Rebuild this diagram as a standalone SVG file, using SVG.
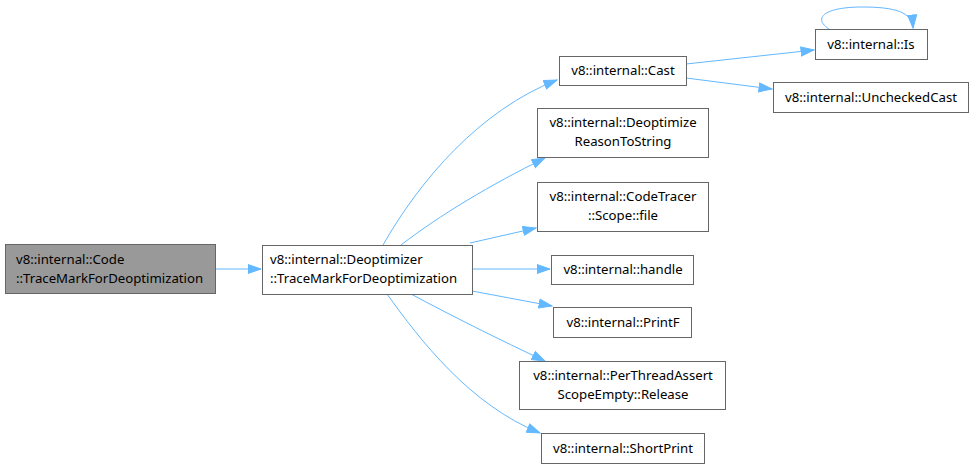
<svg xmlns="http://www.w3.org/2000/svg" width="974" height="468" viewBox="0 0 974 468">
<style>
.box{fill:#ffffff;stroke:#666666;stroke-width:1}
.cur{fill:#999999;stroke:#666666;stroke-width:1}
text{font-family:"Noto Sans","Open Sans","DejaVu Sans",sans-serif;font-size:13.2px;fill:#000000}
.c{text-anchor:middle}
.e{fill:none;stroke:#63b8ff;stroke-width:1}
.ah{fill:#63b8ff;stroke:#63b8ff}
</style>
<defs>
<marker id="arr" markerWidth="15" markerHeight="11" refX="13.5" refY="5.5" orient="auto" markerUnits="userSpaceOnUse">
<path d="M0.5,1 L13.5,5.5 L0.5,10 Z" class="ah"/>
</marker>
</defs>
<rect width="974" height="468" fill="#ffffff"/>
<g id="edges">
<path class="e" marker-end="url(#arr)" d="M215,269 L261,269"/>
<path class="e" marker-end="url(#arr)" d="M383,245 C420,180 480,110 557,80"/>
<path class="e" marker-end="url(#arr)" d="M401,245 C440,215 490,185 545,158"/>
<path class="e" marker-end="url(#arr)" d="M470,243 L536,228"/>
<path class="e" marker-end="url(#arr)" d="M472,269 L550,269"/>
<path class="e" marker-end="url(#arr)" d="M472,291 L552,306"/>
<path class="e" marker-end="url(#arr)" d="M411,294 C450,315 500,340 545,361"/>
<path class="e" marker-end="url(#arr)" d="M387,294 C420,340 470,405 540,433"/>
<path class="e" marker-end="url(#arr)" d="M686,64 L814,50"/>
<path class="e" marker-end="url(#arr)" d="M686,78 L772,89"/>
<path class="e" marker-end="url(#arr)" d="M829,29 C812,18 825,7 862,7 C895,7 912,12 913,28"/>
</g>
<g id="n_code">
<rect class="cur" x="5.5" y="244.5" width="210" height="49"/>
<text x="16" y="264">v8::internal::Code</text>
<text x="16" y="283">::TraceMarkForDeoptimization</text>
</g>
<g id="n_deopt">
<rect class="box" x="262.5" y="245.5" width="210" height="49"/>
<text x="270" y="264">v8::internal::Deoptimizer</text>
<text x="270" y="283">::TraceMarkForDeoptimization</text>
</g>
<g id="n_cast">
<rect class="box" x="559.5" y="56.5" width="127" height="29"/>
<text class="c" x="623" y="75">v8::internal::Cast</text>
</g>
<g id="n_is">
<rect class="box" x="815.5" y="29.5" width="112" height="30"/>
<text class="c" x="871" y="49">v8::internal::Is</text>
</g>
<g id="n_unchecked">
<rect class="box" x="773.5" y="82.5" width="195" height="30"/>
<text class="c" x="871" y="102">v8::internal::UncheckedCast</text>
</g>
<g id="n_reason">
<rect class="box" x="537.5" y="108.5" width="171" height="49"/>
<text class="c" x="623" y="127">v8::internal::Deoptimize</text>
<text class="c" x="623" y="146">ReasonToString</text>
</g>
<g id="n_tracer">
<rect class="box" x="537.5" y="182.5" width="171" height="49"/>
<text class="c" x="623" y="201">v8::internal::CodeTracer</text>
<text class="c" x="623" y="220">::Scope::file</text>
</g>
<g id="n_handle">
<rect class="box" x="551.5" y="255.5" width="142" height="29"/>
<text class="c" x="623" y="274">v8::internal::handle</text>
</g>
<g id="n_printf">
<rect class="box" x="553.5" y="307.5" width="138" height="30"/>
<text class="c" x="623" y="327">v8::internal::PrintF</text>
</g>
<g id="n_release">
<rect class="box" x="519.5" y="361.5" width="206" height="48"/>
<text class="c" x="623" y="380">v8::internal::PerThreadAssert</text>
<text class="c" x="623" y="399">ScopeEmpty::Release</text>
</g>
<g id="n_short">
<rect class="box" x="541.5" y="433.5" width="163" height="30"/>
<text class="c" x="623" y="453">v8::internal::ShortPrint</text>
</g>
</svg>
